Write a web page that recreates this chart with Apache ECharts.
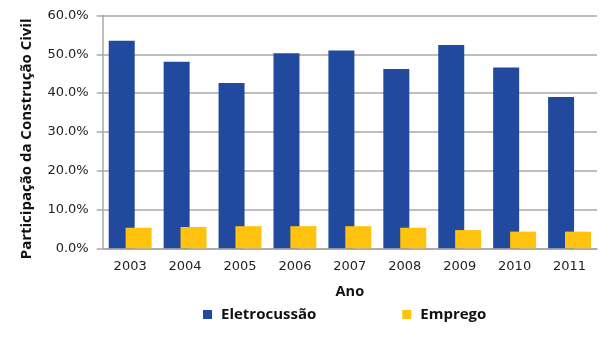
<!DOCTYPE html>
<html>
<head>
<meta charset="utf-8">
<script src="https://cdn.jsdelivr.net/npm/echarts@6/dist/echarts.min.js"></script>
<style>html,body{margin:0;padding:0;background:#fff}#c{width:615px;height:339px}</style>
</head>
<body>
<div id="c"></div>
<script>
const years = ['2003','2004','2005','2006','2007','2008','2009','2010','2011'];
const eletrocussao = [53.5, 48.1, 42.6, 50.3, 51.0, 46.2, 52.4, 46.6, 39.0];
const emprego = [5.3, 5.5, 5.7, 5.7, 5.7, 5.3, 4.7, 4.3, 4.3];
const seriesNames = ['Eletrocussão', 'Emprego'];
const yTicks = [0, 10, 20, 30, 40, 50, 60];

const chart = echarts.init(document.getElementById('c'), null, {renderer: 'canvas'});
chart.setOption({
  animation: false,
  backgroundColor: '#fff',
  grid: {left: 102.7, right: 18, top: 15.5, bottom: 90.7, containLabel: false},
  legend: {
    data: seriesNames,
    left: 198, top: 302,
    itemWidth: 9, itemHeight: 9, itemGap: 86,
    icon: 'rect',
    textStyle: {fontFamily: 'Open Sans', fontWeight: 'bold', fontSize: 15, color: '#111', padding: [0,0,0,4]}
  },
  xAxis: {
    type: 'category',
    data: years,
    name: 'Ano',
    nameLocation: 'middle',
    nameGap: 36,
    nameTextStyle: {fontFamily: 'Open Sans', fontWeight: 'bold', fontSize: 14.5, color: '#111'},
    axisLine: {lineStyle: {color: '#a8a8a8', width: 1.5}},
    axisTick: {show: false},
    axisLabel: {fontFamily: 'DejaVu Sans', fontSize: 13, color: '#222', margin: 12}
  },
  yAxis: {
    type: 'value',
    min: yTicks[0], max: yTicks[yTicks.length-1], interval: 10,
    name: 'Participação da Construção Civil',
    nameLocation: 'middle',
    nameGap: 68,
    nameTextStyle: {fontFamily: 'Open Sans', fontWeight: 'bold', fontSize: 15, color: '#111', padding: [0, 14, 0, 0]},
    axisLine: {show: true, lineStyle: {color: '#a8a8a8', width: 1.5}},
    axisTick: {show: true, length: 6, lineStyle: {color: '#a8a8a8', width: 1.5}},
    splitLine: {lineStyle: {color: '#a8a8a8', width: 1.5}},
    axisLabel: {fontFamily: 'DejaVu Sans', fontSize: 13, color: '#222', margin: 14,
      formatter: v => v.toFixed(1) + '%'}
  },
  series: [
    {name: seriesNames[0], type: 'bar', data: eletrocussao, barWidth: 26, barGap: '-35%',
     itemStyle: {color: '#214a9e'}},
    {name: seriesNames[1], type: 'bar', data: emprego, barWidth: 26,
     itemStyle: {color: '#ffc20e'}}
  ]
});
</script>
</body>
</html>
